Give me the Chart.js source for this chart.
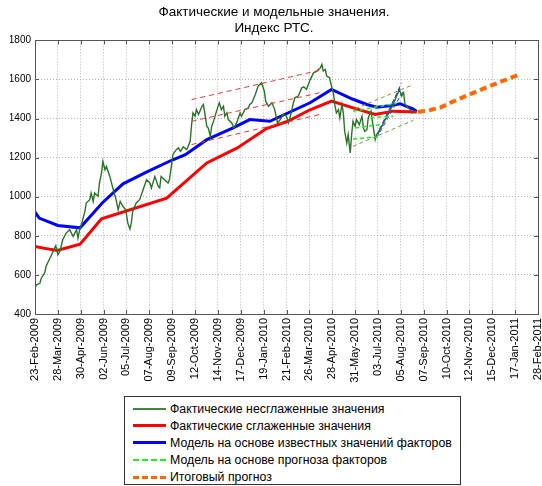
<!DOCTYPE html>
<html>
<head>
<meta charset="utf-8">
<script src="https://cdn.jsdelivr.net/npm/chart.js@4"></script>
<style>
  body { margin: 0; background: #fff; }
  #wrap { position: relative; width: 542px; height: 486px; }
  #legend {
    position: absolute; left: 124px; top: 396px; width: 337px; height: 89px;
    border: 1px solid #333; background: #fff;
    font-family: "Liberation Sans", Arial, sans-serif; font-size: 12.3px; color: #000;
    padding-top: 3px; box-sizing: border-box;
  }
  .row { height: 17.2px; display: flex; align-items: center; white-space: nowrap; }
  .sample { width: 33px; margin-left: 8px; margin-right: 4px; height: 0; }
</style>
</head>
<body>
<div id="wrap">
  <canvas id="chart" width="542" height="486"></canvas>
  <div id="legend"></div>
</div>
<script>
// x values are days counted from 23-Feb-2009
const tickLabels = ['23-Feb-2009', '28-Mar-2009', '30-Apr-2009', '02-Jun-2009', '05-Jul-2009', '07-Aug-2009',
  '09-Sep-2009', '12-Oct-2009', '14-Nov-2009', '17-Dec-2009', '19-Jan-2010', '21-Feb-2010', '26-Mar-2010',
  '28-Apr-2010', '31-May-2010', '03-Jul-2010', '05-Aug-2010', '07-Sep-2010', '10-Oct-2010', '12-Nov-2010',
  '15-Dec-2010', '17-Jan-2011', '28-Feb-2011'];
const tickStep = 33;

const actualDays = [
  0, 2, 7, 9, 14, 16, 18, 24, 27, 30,
  33, 36, 40, 45, 50, 55, 60, 62, 65, 67,
  72, 74, 79, 81, 84, 86, 91, 93, 96, 98,
  101, 103, 108, 113, 117, 120, 123, 127, 131, 134,
  137, 139, 141, 146, 151, 156, 161, 166, 168, 173,
  178, 180, 182, 187, 192, 194, 197, 199, 202, 204,
  207, 210, 214, 219, 224, 226, 228, 231, 233, 236,
  241, 243, 245, 248, 250, 253, 255, 257, 262, 266,
  269, 272, 274, 277, 279, 284, 287, 291, 296, 298,
  303, 308, 310, 313, 318, 322, 327, 331, 333, 337,
  342, 346, 350, 354, 358, 363, 366, 368, 373, 375,
  380, 385, 388, 392, 397, 402, 407, 409, 412, 414,
  416, 419, 421, 425, 428, 431, 433, 435, 438, 440,
  443, 445, 447, 450, 452, 455, 457, 459, 462, 464,
  468, 472, 474, 476, 479, 481, 485, 487, 491, 493,
  498, 503, 508, 512, 517, 522, 526, 529, 532, 534,
  537, 541, 545, 548];
const actualValues = [
  532, 549, 557, 583, 610, 643, 660, 703, 728, 749,
  703, 720, 780, 814, 831, 797, 831, 788, 840, 856,
  925, 968, 985, 1019, 976, 1019, 1002, 1070, 1121, 1181,
  1138, 1155, 1104, 1036, 985, 933, 976, 950, 933, 865,
  835, 865, 925, 968, 985, 1036, 1087, 1070, 1045, 1104,
  1053, 1045, 1104, 1087, 1070, 1087, 1160, 1215, 1232, 1241,
  1250, 1232, 1255, 1241, 1284, 1369, 1429, 1412, 1446, 1421,
  1463, 1472, 1429, 1360, 1352, 1309, 1360, 1378, 1438, 1481,
  1446, 1463, 1412, 1429, 1395, 1378, 1352, 1378, 1429, 1412,
  1446, 1455, 1472, 1481, 1523, 1566, 1583, 1540, 1489, 1463,
  1481, 1446, 1378, 1395, 1421, 1412, 1378, 1404, 1481, 1506,
  1515, 1557, 1562, 1550, 1598, 1634, 1643, 1651, 1660, 1677,
  1643, 1651, 1617, 1609, 1566, 1523, 1463, 1429, 1446, 1404,
  1472, 1429, 1335, 1275, 1318, 1224, 1318, 1386, 1360, 1395,
  1369, 1412, 1352, 1335, 1343, 1404, 1438, 1386, 1292, 1318,
  1343, 1378, 1412, 1438, 1472, 1515, 1549, 1515, 1532, 1472,
  1463, 1446, 1429, 1438];

const smoothDays = [0, 12, 32, 65, 96, 190, 248, 292, 334, 364, 397, 428, 459, 491, 517, 551];
const smoothValues = [745, 737, 725, 757, 887, 993, 1173, 1250, 1349, 1385, 1445, 1489, 1455, 1421, 1438, 1434];

const modelDays = [0, 6, 33, 65, 97, 127, 163, 198, 217, 248, 286, 310, 339, 397, 428, 458, 479, 493, 512, 527, 546, 551];
const modelValues = [922, 891, 853, 841, 968, 1066, 1130, 1188, 1215, 1292, 1352, 1395, 1386, 1481, 1549, 1500, 1472, 1458, 1466, 1476, 1448, 1436];

const forecastDays = [553, 570, 585, 599, 618, 637, 657, 676, 701];
const forecastValues = [1434, 1444, 1456, 1480, 1510, 1538, 1567, 1594, 1628];

// trend channel (red dashed), each line: [startDay, startValue, endDay, endValue]
const channelLines = [[226, 1497, 414, 1650], [226, 1386, 411, 1532], [226, 1267, 411, 1421]];
// recent channel (olive dashed)
const recentChannel = [[462, 1450, 546, 1574], [459, 1258, 546, 1391]];
// model on forecast factors (green dashed)
const factorForecast = [[459, 1438, 522, 1478], [462, 1352, 498, 1369], [459, 1295, 500, 1308], [484, 1404, 517, 1412]];
// steep model fan (blue dashed)
const modelFan = [[495, 1318, 529, 1583], [497, 1345, 527, 1560], [493, 1300, 532, 1545]];

const legendItems = [
  { text: 'Фактические несглаженные значения', color: '#3d8a3d', width: 2, dash: false },
  { text: 'Фактические сглаженные значения', color: '#ff0000', width: 3, dash: false },
  { text: 'Модель на основе известных значений факторов', color: '#0000ff', width: 3, dash: false },
  { text: 'Модель на основе прогноза факторов', color: '#22ee22', width: 2, dash: true },
  { text: 'Итоговый прогноз', color: '#ff6600', width: 3, dash: true }
];

const FONT = '"Liberation Sans", Arial, sans-serif';

function toPoints(xs, ys) {
  return xs.map((x, i) => ({ x, y: ys[i] }));
}

function segmentSets(lines, color, width, dash) {
  return lines.map(l => ({
    data: [{ x: l[0], y: l[1] }, { x: l[2], y: l[3] }],
    borderColor: color, borderWidth: width, borderDash: dash,
    pointRadius: 0, fill: false
  }));
}

const datasets = [
  ...segmentSets(channelLines, '#e23a3a', 1, [5, 4]),
  ...segmentSets(recentChannel, '#8f8f45', 1, [4, 3]),
  ...segmentSets(factorForecast, '#22ee22', 1.5, [4, 3]),
  { data: toPoints(actualDays, actualValues), borderColor: '#2a742a', borderWidth: 1.4, pointRadius: 0 },
  ...segmentSets(modelFan, '#2233ff', 1, [4, 3]),
  { data: toPoints(smoothDays, smoothValues), borderColor: '#ff0000', borderWidth: 3, pointRadius: 0 },
  { data: toPoints(modelDays, modelValues), borderColor: '#0000ff', borderWidth: 3, pointRadius: 0 },
  { data: toPoints(forecastDays, forecastValues), borderColor: '#ff6a00', borderWidth: 4, borderDash: [7, 4], pointRadius: 0 }
];

// box around the plot plus inward tick marks
const boxPlugin = {
  id: 'box',
  afterDraw(chart) {
    const { ctx, chartArea: a, scales } = chart;
    ctx.save();
    ctx.strokeStyle = '#555';
    ctx.lineWidth = 1;
    ctx.strokeRect(Math.round(a.left) + 0.5, Math.round(a.top) + 0.5,
      Math.round(a.right - a.left), Math.round(a.bottom - a.top));
    ctx.beginPath();
    scales.x.ticks.forEach(t => {
      const px = Math.round(scales.x.getPixelForValue(t.value)) + 0.5;
      ctx.moveTo(px, a.bottom); ctx.lineTo(px, a.bottom - 4);
      ctx.moveTo(px, a.top); ctx.lineTo(px, a.top + 4);
    });
    scales.y.ticks.forEach(t => {
      const py = Math.round(scales.y.getPixelForValue(t.value)) + 0.5;
      ctx.moveTo(a.left, py); ctx.lineTo(a.left + 4, py);
      ctx.moveTo(a.right, py); ctx.lineTo(a.right - 4, py);
    });
    ctx.stroke();
    ctx.restore();
  }
};

new Chart(document.getElementById('chart'), {
  type: 'line',
  data: { datasets },
  options: {
    responsive: false,
    animation: false,
    devicePixelRatio: 1,
    layout: { padding: { left: 10, right: 4, top: 0, bottom: 0 } },
    elements: { line: { tension: 0 } },
    plugins: {
      legend: { display: false },
      tooltip: { enabled: false },
      title: {
        display: true,
        text: ['Фактические и модельные значения.', 'Индекс РТС.'],
        color: '#000',
        font: { family: FONT, size: 13.5, weight: 'normal', lineHeight: 1.2 },
        padding: { top: 4, bottom: 4 }
      }
    },
    scales: {
      x: {
        type: 'linear',
        min: 0,
        max: tickStep * (tickLabels.length - 1),
        afterBuildTicks: s => { s.ticks = tickLabels.map((_, i) => ({ value: i * tickStep })); },
        afterFit: s => { s.height = 172; s.paddingLeft = 0; s.paddingRight = 0; },
        ticks: {
          autoSkip: false, minRotation: 90, maxRotation: 90, padding: 4,
          color: '#000', font: { family: FONT, size: 11 },
          callback: (v, i) => tickLabels[i]
        },
        grid: { color: '#b5b5b5', drawTicks: false },
        border: { display: false, dash: [1, 2] }
      },
      y: {
        min: 400,
        max: 1800,
        afterFit: s => { s.width = 25; },
        ticks: {
          stepSize: 200, padding: 4, color: '#000', font: { family: FONT, size: 10 },
          callback: v => String(v)
        },
        grid: { color: '#b5b5b5', drawTicks: false },
        border: { display: false, dash: [1, 2] }
      }
    }
  },
  plugins: [boxPlugin]
});

const legend = document.getElementById('legend');
legendItems.forEach(item => {
  const row = document.createElement('div');
  row.className = 'row';
  const sample = document.createElement('span');
  sample.className = 'sample';
  sample.style.borderTop = item.width + 'px ' + (item.dash ? 'dashed ' : 'solid ') + item.color;
  row.appendChild(sample);
  row.appendChild(document.createTextNode(item.text));
  legend.appendChild(row);
});
</script>
</body>
</html>
